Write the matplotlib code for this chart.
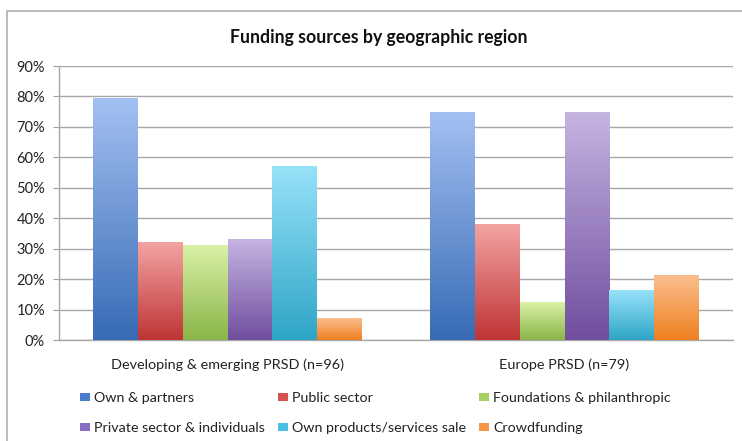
import numpy as np
import matplotlib
matplotlib.use("Agg")
from matplotlib import pyplot as plt
from matplotlib.colors import LinearSegmentedColormap
from matplotlib.patches import Rectangle, Patch

plt.rcParams['font.family'] = ['Lato', 'DejaVu Sans']

regions = ["Developing & emerging PRSD (n=96)", "Europe PRSD (n=79)"]
sources = ["Own & partners", "Public sector", "Foundations & philanthropic",
           "Private sector & individuals", "Own products/services sale", "Crowdfunding"]
developing = [79.2, 32.1, 31.2, 33.1, 57.1, 7.1]
europe = [74.7, 37.8, 12.4, 74.7, 16.4, 21.3]

# (top colour, bottom colour, legend colour)
shades = [("#a3c0f2", "#376bb5", "#4a7fcf"),
          ("#f3a3a3", "#bf3434", "#d65252"),
          ("#d9f2a6", "#8ab548", "#a6d161"),
          ("#c6b4e2", "#6f4e9e", "#8c6cc0"),
          ("#97e2f9", "#2ea5c6", "#4cc0e2"),
          ("#fabf8e", "#ef7f1f", "#f79646")]

fig = plt.figure(figsize=(7.42, 4.41), dpi=100)
fig.patches.append(Rectangle((7/742, -0.1), 1.1, 1 - 11/441 + 0.1, transform=fig.transFigure,
                             fill=False, edgecolor="#b0b0b0", linewidth=1.2))
ax = fig.add_axes([59/742, 1 - 340/441, 674/742, 274/441])

values = np.array([developing, europe])
width = 0.8 / len(sources)
grad = np.linspace(1, 0, 256).reshape(-1, 1)
for j in range(len(sources)):
    cmap = LinearSegmentedColormap.from_list("g%d" % j, [shades[j][1], shades[j][0]])
    for i in range(len(regions)):
        x0 = i - 0.4 + j * width
        h = values[i, j]
        ax.imshow(grad, extent=[x0, x0 + width, 0, h], aspect="auto", cmap=cmap,
                  vmin=0, vmax=1, zorder=3, interpolation="bilinear")

ax.set_xlim(-0.5, 1.5)
ax.set_ylim(0, 90)
ax.set_yticks(np.arange(0, 91, 10))
ax.set_yticklabels(["%d%%" % v for v in range(0, 91, 10)], fontsize=10.5, color="#222222")
ax.set_xticks([0, 1])
ax.set_xticklabels(regions, fontsize=10.4, color="#222222")
ax.tick_params(axis="x", length=0, pad=13.5)
ax.tick_params(axis="y", length=4, color="#a0a0a0", pad=6)
ax.grid(axis="y", color="#a8a8a8", linewidth=1, zorder=0)
ax.set_axisbelow(True)
for s in ["top", "right"]:
    ax.spines[s].set_visible(False)
for s in ["left", "bottom"]:
    ax.spines[s].set_color("#a8a8a8")
    ax.spines[s].set_linewidth(1)

fig.text(378.5/742, 1 - 38/441, "Funding sources by geographic region", ha="center", va="center",
         fontsize=12.7, fontweight="bold", color="#111111")

handles = [Patch(facecolor=shades[k][2], edgecolor="none") for k in range(len(sources))]
order = [0, 3, 1, 4, 2, 5]
fig.legend([handles[k] for k in order], [sources[k] for k in order], ncol=3,
           loc="upper left", bbox_to_anchor=(73/742, 1 - 385/441), frameon=False, borderpad=0,
           fontsize=10.3, handlelength=0.7, handleheight=0.55, handletextpad=0.25,
           columnspacing=0.95, labelspacing=1.25, labelcolor="#222222")

fig.savefig("out.png", dpi=100, facecolor="white")
